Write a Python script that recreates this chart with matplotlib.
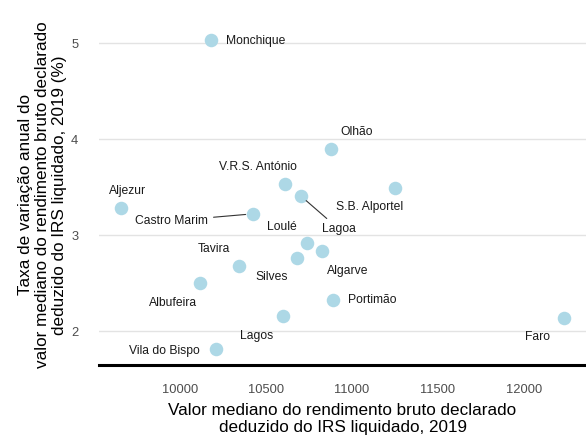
import matplotlib
matplotlib.use("Agg")
import matplotlib.pyplot as plt

plt.rcParams["font.family"] = ["Liberation Sans", "DejaVu Sans"]

# data
concelhos = ["Monchique", "Aljezur", "V.R.S. António", "Lagoa", "Olhão", "S.B. Alportel",
             "Castro Marim", "Tavira", "Albufeira", "Lagos", "Vila do Bispo", "Silves",
             "Loulé", "Algarve", "Portimão", "Faro"]
rendimento = [10179, 9660, 10610, 10704, 10879, 11252,
              10423, 10347, 10120, 10600, 10208, 10679,
              10740, 10827, 10889, 12231]
variacao = [5.03, 3.285, 3.534, 3.407, 3.895, 3.493,
            3.222, 2.677, 2.497, 2.156, 1.810, 2.767,
            2.920, 2.840, 2.323, 2.140]

# label offsets in pixels (repel-like placement)
offsets = {
    "Monchique": (45, -1), "Aljezur": (6, 17), "V.R.S. António": (-27, 17),
    "Lagoa": (38, -33), "Olhão": (26, 17), "S.B. Alportel": (-26, -19),
    "Castro Marim": (-81, -7), "Tavira": (-26, 17), "Albufeira": (-27, -20),
    "Lagos": (-26, -20), "Vila do Bispo": (-51, -2), "Silves": (-25, -19),
    "Loulé": (-25, 16), "Algarve": (26, -20), "Portimão": (39, 0),
    "Faro": (-26, -19),
}
with_segment = {"Lagoa", "Castro Marim"}

fig = plt.figure(figsize=(5.86, 4.37), dpi=100)
ax = fig.add_axes([0.169, 0.165, 0.831, 0.778])

ax.scatter(rendimento, variacao, s=95, color="#add8e6", zorder=3, linewidths=0)

for name, x, y in zip(concelhos, rendimento, variacao):
    dx, dy = offsets[name]
    arrow = None
    if name in with_segment:
        arrow = dict(arrowstyle="-", color="#333333", lw=0.8, shrinkA=2, shrinkB=5)
    ax.annotate(name, (x, y), xytext=(dx, dy), textcoords="offset pixels",
                ha="center", va="center", fontsize=8.7, color="#1a1a1a",
                arrowprops=arrow, zorder=4)

ax.set_xlim(9531, 12360)
ax.set_ylim(1.649, 5.19)
ax.set_xticks([10000, 10500, 11000, 11500, 12000])
ax.set_yticks([2, 3, 4, 5])
ax.grid(axis="y", color="#e3e3e3", lw=1.0)
ax.set_axisbelow(True)
for side in ["top", "right", "left"]:
    ax.spines[side].set_visible(False)
ax.spines["bottom"].set_linewidth(2.2)
ax.spines["bottom"].set_color("black")
ax.tick_params(length=0, labelsize=9.3, labelcolor="#4d4d4d")
ax.tick_params(axis="x", pad=14)
ax.tick_params(axis="y", pad=15)

ax.set_xlabel("Valor mediano do rendimento bruto declarado\ndeduzido do IRS liquidado, 2019",
              fontsize=12.3, labelpad=5, linespacing=1.15)
ax.set_ylabel("Taxa de variação anual do\nvalor mediano do rendimento bruto declarado\ndeduzido do IRS liquidado, 2019 (%)",
              fontsize=12.3, labelpad=3, linespacing=1.15)

fig.savefig("out.png", dpi=100)
